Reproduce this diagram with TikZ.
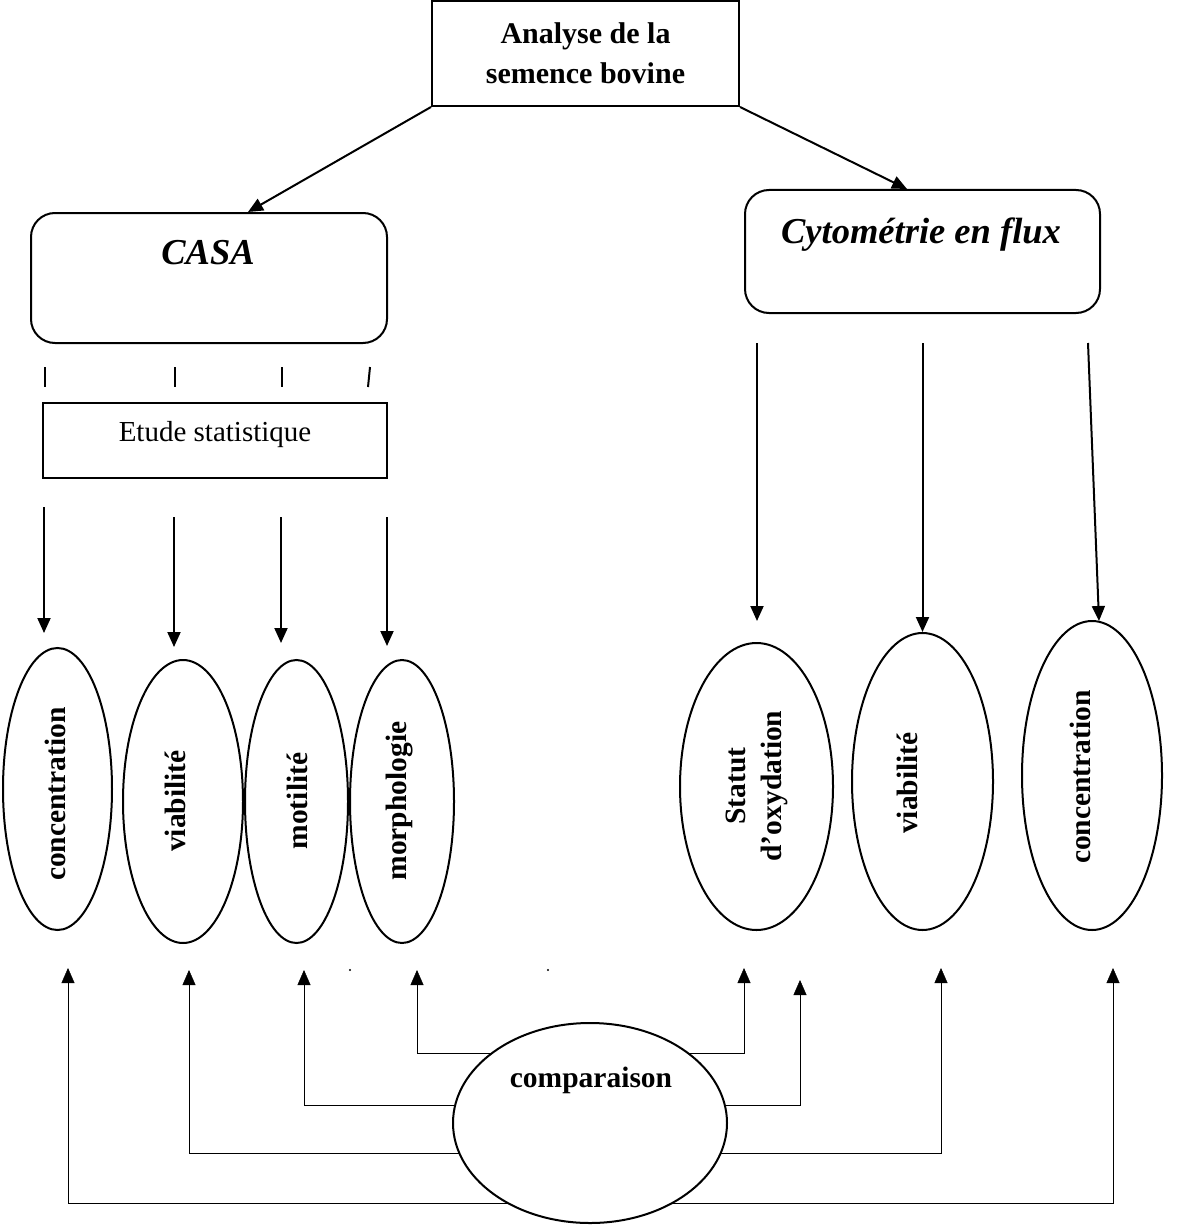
\documentclass[tikz,border=0pt]{standalone}
\usepackage{fontspec}
\setmainfont{Liberation Serif}
\usetikzlibrary{arrows.meta,shapes.geometric,backgrounds}
\begin{document}
\begin{tikzpicture}[x=1pt,y=-1pt,line width=2pt,
  arr/.style={-{Triangle[length=15pt,width=13pt]}},
  ell/.style={draw,ellipse,inner sep=0pt},
  bt/.style={font=\fontsize{29.5}{36}\selectfont\bfseries,inner sep=0pt},
  it/.style={font=\fontsize{36.5}{44}\selectfont\bfseries\itshape,inner sep=0pt},
  rt/.style={font=\fontsize{29}{34}\selectfont,inner sep=0pt},
  box/.style={draw,rectangle,inner sep=0pt},
  rbox/.style={draw,rectangle,rounded corners=24pt,inner sep=0pt}]
\useasboundingbox (0,0) rectangle (1176,1225);

% top box
\node[box,minimum width=307pt,minimum height=105pt,align=center,
      font=\fontsize{30}{40}\selectfont\bfseries] (top) at (585.5,53.5)
      {Analyse de la\\semence bovine};

% method boxes
\node[rbox,minimum width=356pt,minimum height=130pt] (casa) at (209,278) {};
\node[it] (casat) at (208,253) {CASA};
\node[rbox,minimum width=355pt,minimum height=123pt] (cyto) at (922.5,251.5) {};
\node[it] (cytot) at (921,235) {Cytométrie en flux};

\draw[arr] (top.south west) -- ([xshift=39pt]casa.north);
\draw[arr] (top.south east) -- ([xshift=-15.5pt]cyto.north);

% tick marks
\draw (45,367) -- (45,387);
\draw (175,367) -- (175,387);
\draw (282,367) -- (282,387);
\draw (370,367) -- (368,387);

% statistics box
\node[box,minimum width=344pt,minimum height=75pt] (etude) at (215,440.5) {};
\node[rt] (etudet) at (215,435) {Etude statistique};

% left ellipses
\node[ell,minimum width=109pt,minimum height=282pt] (c1) at (57.5,789) {};
\node[ell,minimum width=120pt,minimum height=283pt] (v1) at (183,801.5) {};
\node[ell,minimum width=103pt,minimum height=283pt] (m1) at (296.5,801.5) {};
\node[ell,minimum width=104pt,minimum height=283pt] (p1) at (402,801.5) {};
\node[bt,rotate=90] (c1t) at (55,794) {concentration};
\node[bt,rotate=90] (v1t) at (175,801) {viabilité};
\node[bt,rotate=90] (m1t) at (297,801) {motilité};
\node[bt,rotate=90] (p1t) at (400,801) {morphologie};

% right ellipses
\node[ell,minimum width=153pt,minimum height=287pt] (s2) at (756.5,786.5) {};
\node[ell,minimum width=141pt,minimum height=297pt] (v2) at (922.5,781.5) {};
\node[ell,minimum width=140pt,minimum height=309pt] (c2) at (1092,775.5) {};
\node[bt,rotate=90,align=center] (s2t) at (757,786) {Statut\\d’oxydation};
\node[bt,rotate=90] (v2t) at (907,783) {viabilité};
\node[bt,rotate=90] (c2t) at (1080,777) {concentration};

% arrows from statistics to left ellipses
\draw[arr] (44,507) -- (44,633);
\draw[arr] (174,517) -- (174,647);
\draw[arr] (281,517) -- (281,643);
\draw[arr] (387,517) -- (387,646);

% arrows from cytometry to right ellipses
\draw[arr] (757,343) -- (757,621);
\draw[arr] (922.5,343) -- (v2.north);
\draw[arr] (1088,343) -- (1099,621);

% comparison
\node[ell,fill=white,minimum width=274pt,minimum height=200pt] (comp) at (590,1123) {};
\node[bt] (compt) at (591,1080) {comparaison};

\begin{pgfonlayer}{background}
\draw[arr] (comp.center |- 0,1203) -| (68,968);
\draw[arr] (comp.center |- 0,1203) -| (1113,968);
\draw[arr] (comp.center |- 0,1153) -| (189,970);
\draw[arr] (comp.center |- 0,1153) -| (941,968);
\draw[arr] (comp.center |- 0,1105) -| (304,970);
\draw[arr] (comp.center |- 0,1105) -| (800,980);
\draw[arr] (comp.center |- 0,1053) -| (417,970);
\draw[arr] (comp.center |- 0,1053) -| (744,968);
\end{pgfonlayer}

% stray dots
\fill (350,970) circle (1.2pt);
\fill (548,970) circle (1.2pt);
\end{tikzpicture}
\end{document}
